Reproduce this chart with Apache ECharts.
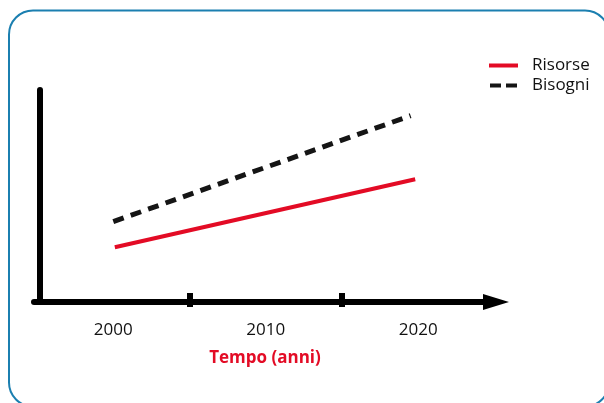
<!DOCTYPE html>
<html>
<head>
<meta charset="utf-8">
<script src="https://cdn.jsdelivr.net/npm/echarts@6/dist/echarts.min.js"></script>
<style>html,body{margin:0;padding:0;background:#fff;}#c{width:604px;height:403px;}</style>
</head>
<body>
<div id="c"></div>
<script>
const tickLabels = [2000, 2010, 2020];
const tickMarks = [2005, 2015];
const risorseX = [2000.1, 2019.8];
const risorseY = [25.8, 57.9];
const bisogniX = [2000, 2019.5];
const bisogniY = [37.9, 87.9];
const seriesNames = ['Risorse', 'Bisogni'];

const font = '"Open Sans", sans-serif';
const xMin = 1994.8, xMax = 2025.1;
const chart = echarts.init(document.getElementById('c'), null, {renderer: 'canvas'});
chart.setOption({
  animation: false,
  backgroundColor: '#fff',
  graphic: [{
    type: 'rect', z: -10,
    shape: {x: 9, y: 10.5, width: 600, height: 396, r: 24},
    style: {fill: 'none', stroke: '#1b7fb0', lineWidth: 2}
  }],
  legend: {
    orient: 'vertical', left: 489, top: 57, padding: 0,
    itemWidth: 29, itemHeight: 4, itemGap: 3,
    textStyle: {fontFamily: font, fontSize: 17, color: '#111', padding: [0, 0, 0, 9]},
    itemStyle: {borderWidth: 0},
    lineStyle: {width: 0},
    data: [
      {name: seriesNames[0], icon: 'rect'},
      {name: seriesNames[1], icon: 'path://M0,0h11v4h-11z M16,0h11v4h-11z'}
    ]
  },
  grid: {left: 34, right: 108, top: 90, bottom: 101},
  xAxis: [{
    type: 'value', min: xMin, max: xMax,
    axisLine: {show: true, lineStyle: {color: '#000', width: 6}, symbol: ['none', 'triangle'], symbolSize: [16, 26]},
    axisTick: {show: true, customValues: tickMarks, length: 5, inside: false, lineStyle: {color: '#000', width: 6}},
    axisLabel: {customValues: tickLabels, margin: 20, fontFamily: font, fontSize: 17, color: '#111', formatter: v => String(v)},
    splitLine: {show: false},
    name: 'Tempo (anni)', nameLocation: 'middle', nameGap: 48,
    nameTextStyle: {fontFamily: font, fontSize: 17, fontWeight: 'bold', color: '#e30b25'}
  }, {
    type: 'value', min: xMin, max: xMax, position: 'bottom',
    axisLine: {show: false},
    axisTick: {show: true, customValues: tickMarks, length: 9, inside: true, lineStyle: {color: '#000', width: 6}},
    axisLabel: {show: false}, splitLine: {show: false}
  }],
  yAxis: {
    type: 'value', min: 0, max: 100, offset: -6,
    axisLine: {show: true, lineStyle: {color: '#000', width: 6}},
    axisTick: {show: false}, axisLabel: {show: false}, splitLine: {show: false}
  },
  series: [
    {name: seriesNames[0], type: 'line', showSymbol: false, symbol: 'none',
     data: risorseX.map((x, i) => [x, risorseY[i]]),
     lineStyle: {color: '#e30b25', width: 4}, itemStyle: {color: '#e30b25'}},
    {name: seriesNames[1], type: 'line', showSymbol: false, symbol: 'none',
     data: bisogniX.map((x, i) => [x, bisogniY[i]]),
     lineStyle: {color: '#151515', width: 5, type: [11, 7.5]}, itemStyle: {color: '#151515'}}
  ]
});
</script>
</body>
</html>
